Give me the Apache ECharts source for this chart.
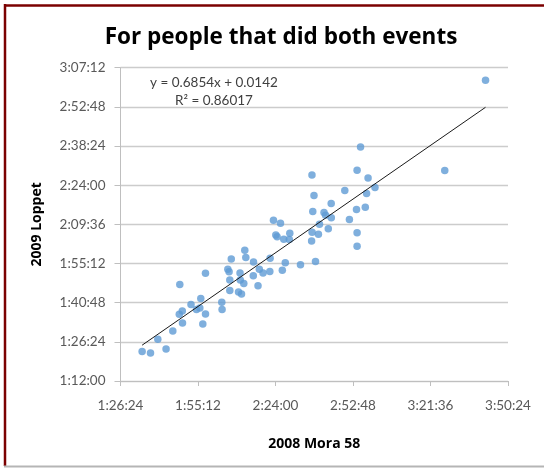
<!DOCTYPE html>
<html>
<head>
<meta charset="utf-8">
<script src="https://cdn.jsdelivr.net/npm/echarts@6/dist/echarts.min.js"></script>
<style>
html,body{margin:0;padding:0;background:#fff;}
#chart{width:544px;height:468px;}
</style>
</head>
<body>
<div id="chart"></div>
<script>
// ---- data (seconds) ----
const mora2008 = [5666,5853,6016,6200,6350,6506,6495,6562,6566,6756,6878,6952,6974,7019,7079,7079,7442,7449,7577,7605,7621,7621,7654,7815,7849,7882,7855,7933,7955,7978,8145,8150,8250,8279,8362,8513,8520,8595,8647,8676,8751,8825,8792,8858,8959,8948,9197,9453,9498,9471,9456,9445,9532,9597,9621,9722,9757,9817,9884,9882,10185,10288,10446,10459,10459,10459,10642,10671,10704,10858,10536,12414,13323];
const loppet2009 = [4970,4937,5239,5025,5422,6451,5792,5863,5598,6010,5900,5929,6138,5576,6696,5797,6055,5896,6788,6733,6546,6319,7013,6282,6705,6237,6546,6473,7207,7042,6641,6943,6420,6784,6700,6738,7027,7868,7542,7505,7802,7445,6762,6927,7582,7443,6883,8865,8413,8062,7604,7406,6954,7560,7780,8040,7979,7679,7919,8237,8523,7882,8106,8970,7589,7291,8151,8457,8799,8589,9484,8964,10954];
const xTicks = ['1:26:24','1:55:12','2:24:00','2:52:48','3:21:36','3:50:24'];
const yTicks = ['1:12:00','1:26:24','1:40:48','1:55:12','2:09:36','2:24:00','2:38:24','2:52:48','3:07:12'];
const trendSlope = 0.6854;
const trendInterceptDays = 0.0142;
const eqText = 'y = 0.6854x + 0.0142';
const r2Text = 'R² = 0.86017';
const titleText = 'For people that did both events';
const xName = '2008 Mora 58';
const yName = '2009 Loppet';

function toSec(s){const p=s.split(':').map(Number);return p[0]*3600+p[1]*60+p[2];}
function pad(n){return (n<10?'0':'')+n;}
function fmt(v){v=Math.round(v);const h=Math.floor(v/3600),m=Math.floor((v%3600)/60),s=v%60;return h+':'+pad(m)+':'+pad(s);}

const points = mora2008.map((x,i)=>[x,loppet2009[i]]);
const xmin = Math.min(...mora2008), xmax = Math.max(...mora2008);
const trendY = x => trendSlope*x + trendInterceptDays*86400;
const trend = [[xmin,trendY(xmin)],[xmax,trendY(xmax)]];

const FONT = 'Lato';
const BOLD = 'Open Sans';
const axisGray = '#bfbfbf';
const chart = echarts.init(document.getElementById('chart'));
chart.setOption({
  animation:false,
  backgroundColor:'#fff',
  title:{
    text:titleText, left:276, top:21, textAlign:'center',
    textStyle:{fontFamily:BOLD,fontWeight:'bold',fontSize:22.5,color:'#000'}
  },
  grid:{left:120.5,right:36,top:67.7,bottom:87,containLabel:false},
  xAxis:{
    type:'value', min:toSec(xTicks[0]), max:toSec(xTicks[xTicks.length-1]),
    interval:toSec(xTicks[1])-toSec(xTicks[0]),
    name:xName, nameLocation:'middle', nameGap:56,
    nameTextStyle:{fontFamily:BOLD,fontWeight:'bold',fontSize:14,color:'#000'},
    axisLine:{show:true,onZero:false,lineStyle:{color:axisGray,width:1}},
    axisTick:{show:true,length:5,inside:false,lineStyle:{color:axisGray}},
    axisLabel:{formatter:fmt,margin:18,fontFamily:FONT,fontSize:13.5,color:'#595959'},
    splitLine:{show:false}
  },
  yAxis:{
    type:'value', min:toSec(yTicks[0]), max:toSec(yTicks[yTicks.length-1]),
    interval:toSec(yTicks[1])-toSec(yTicks[0]),
    name:yName, nameLocation:'middle', nameGap:76, nameRotate:90,
    nameTextStyle:{fontFamily:BOLD,fontWeight:'bold',fontSize:14,color:'#000'},
    axisLine:{show:true,onZero:false,lineStyle:{color:axisGray,width:1}},
    axisTick:{show:true,length:6,inside:false,lineStyle:{color:axisGray}},
    axisLabel:{formatter:fmt,margin:15,fontFamily:FONT,fontSize:13.5,color:'#595959'},
    splitLine:{show:true,lineStyle:{color:'#cccccc',width:1.3}}
  },
  series:[
    {type:'scatter',data:points,symbol:'circle',symbolSize:7.5,
     itemStyle:{color:'#5f9bd5'},z:3},
    {type:'line',data:trend,symbol:'none',lineStyle:{color:'#1a1a1a',width:1},z:4,silent:true}
  ],
  graphic:[
    {type:'text',x:150,y:83,style:{text:eqText,font:'13.5px '+FONT,fill:'#404040',textVerticalAlign:'middle'}},
    {type:'text',x:175,y:100.5,style:{text:r2Text,font:'13.5px '+FONT,fill:'#404040',textVerticalAlign:'middle'}},
    {type:'line',shape:{x1:4,y1:5.5,x2:544,y2:5.5},style:{stroke:'#7b0000',lineWidth:2.5}},
    {type:'line',shape:{x1:5,y1:4,x2:5,y2:466},style:{stroke:'#7b0000',lineWidth:2.5}},
    {type:'line',shape:{x1:4,y1:466.5,x2:544,y2:466.5},style:{stroke:'#b5b5b5',lineWidth:2}}
  ]
});
</script>
</body>
</html>
